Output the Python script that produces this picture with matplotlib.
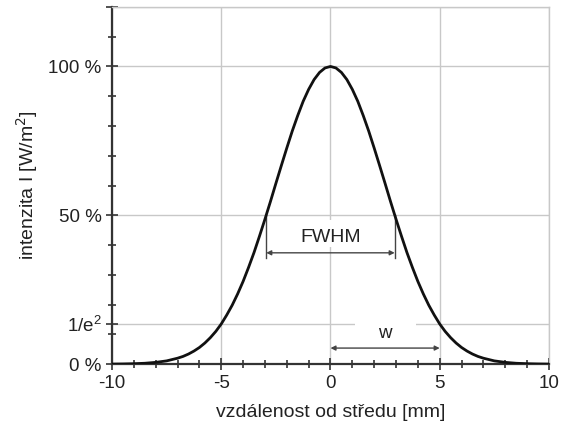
import matplotlib
matplotlib.use('Agg')
import matplotlib.pyplot as plt
from matplotlib.patches import Rectangle
from matplotlib.ticker import MultipleLocator

plt.rcParams['font.family'] = ['Liberation Sans', 'DejaVu Sans']
plt.rcParams['axes.unicode_minus'] = False

# distance from centre [mm] and intensity [%]
distance = [-10, -9.5, -9, -8.5, -8, -7.5, -7, -6.75, -6.5, -6.25, -6, -5.75, -5.5, -5.25, -5,
            -4.75, -4.5, -4.25, -4, -3.75, -3.5, -3.25, -3, -2.75, -2.5, -2.25, -2, -1.75, -1.5,
            -1.25, -1, -0.75, -0.5, -0.25, 0, 0.25, 0.5, 0.75, 1, 1.25, 1.5, 1.75, 2, 2.25, 2.5,
            2.75, 3, 3.25, 3.5, 3.75, 4, 4.25, 4.5, 4.75, 5, 5.25, 5.5, 5.75, 6, 6.25, 6.5, 6.75,
            7, 7.5, 8, 8.5, 9, 9.5, 10]
intensity = [0.03, 0.07, 0.15, 0.3, 0.6, 1.1, 2.0, 2.6, 3.4, 4.4, 5.6, 7.1, 8.9, 11.0, 13.5,
             16.5, 19.8, 23.6, 27.8, 32.5, 37.5, 43.0, 48.7, 54.6, 60.7, 66.7, 72.6, 78.3, 83.5,
             88.3, 92.3, 95.6, 98.0, 99.5, 100, 99.5, 98.0, 95.6, 92.3, 88.3, 83.5, 78.3, 72.6, 66.7, 60.7,
             54.6, 48.7, 43.0, 37.5, 32.5, 27.8, 23.6, 19.8, 16.5, 13.5, 11.0, 8.9, 7.1, 5.6, 4.4, 3.4, 2.6,
             2.0, 1.1, 0.6, 0.3, 0.15, 0.07, 0.03]

x_ticks = [-10, -5, 0, 5, 10]
y_ticks = [0, 13.53, 50, 100, 120]
y_labels = ['0 %', r'$\mathregular{1/e^2}$', '50 %', '100 %', '']

fwhm_half = 2.94
w = 5

txt = '#222222'
fs = 13.5

fig = plt.figure(figsize=(5.63, 4.33), dpi=100)
ax = fig.add_axes([0.199, 0.159, 0.776, 0.825])

ax.plot(distance, intensity, color='#111111', lw=2, zorder=5)

ax.set_xlim(-10, 10)
ax.set_ylim(0, 120)
ax.set_xticks(x_ticks)
ax.set_yticks(y_ticks)
ax.set_yticklabels(y_labels)
ax.xaxis.set_minor_locator(MultipleLocator(1))
ax.yaxis.set_minor_locator(MultipleLocator(10))
ax.tick_params(which='major', direction='inout', length=9, width=1.2, color='#333333',
               labelsize=fs, labelcolor=txt, pad=3)
ax.tick_params(which='minor', direction='inout', length=6, width=1.2, color='#333333')
ax.grid(True, which='major', color='#c8c8c8', lw=1)
for s in ['top', 'right']:
    ax.spines[s].set_color('#c8c8c8')
    ax.spines[s].set_linewidth(1)
for s in ['left', 'bottom']:
    ax.spines[s].set_color('#333333')
    ax.spines[s].set_linewidth(1.6)

# white patches that break the grid behind the labels
ax.add_patch(Rectangle((-1.5, 39.5), 3.0, 9.0, facecolor='white', edgecolor='none', zorder=2))
ax.add_patch(Rectangle((1.12, 7.5), 2.78, 9.0, facecolor='white', edgecolor='none', zorder=2))

# FWHM marker
ax.plot([-fwhm_half, -fwhm_half], [50, 35.7], color='#444444', lw=1, zorder=3)
ax.plot([fwhm_half, fwhm_half], [50, 35.7], color='#444444', lw=1, zorder=3)
ax.annotate('', xy=(-fwhm_half, 37.4), xytext=(fwhm_half, 37.4),
            arrowprops=dict(arrowstyle='<|-|>', color='#444444', lw=1, mutation_scale=7,
                            shrinkA=0, shrinkB=0), zorder=3)
ax.text(0, 42.6, 'FWHM', ha='center', va='center', fontsize=fs + 0.5, color=txt, zorder=4)

# w marker
ax.annotate('', xy=(0, 5.4), xytext=(w, 5.4),
            arrowprops=dict(arrowstyle='<|-|>', color='#444444', lw=1, mutation_scale=7,
                            shrinkA=0, shrinkB=0), zorder=3)
ax.text(w / 2, 10.4, 'w', ha='center', va='center', fontsize=fs, color=txt, zorder=4)

ax.set_xlabel('vzdálenost od středu [mm]', fontsize=fs + 0.5, color=txt, labelpad=9)
ax.set_ylabel('intenzita I [W/m$^2$]', fontsize=fs + 0.5, color=txt, labelpad=6)

fig.savefig('out.png', dpi=100)
